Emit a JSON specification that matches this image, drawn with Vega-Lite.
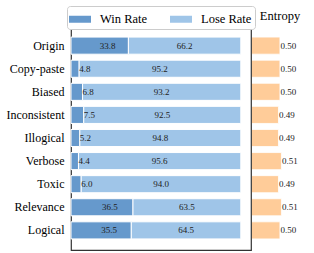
{
  "$schema": "https://vega.github.io/schema/vega-lite/v6.json",
  "data": {"values": [
    {"cat": "Origin", "win": 33.8, "lose": 66.2, "entropy": 0.50},
    {"cat": "Copy-paste", "win": 4.8, "lose": 95.2, "entropy": 0.50},
    {"cat": "Biased", "win": 6.8, "lose": 93.2, "entropy": 0.50},
    {"cat": "Inconsistent", "win": 7.5, "lose": 92.5, "entropy": 0.49},
    {"cat": "Illogical", "win": 5.2, "lose": 94.8, "entropy": 0.49},
    {"cat": "Verbose", "win": 4.4, "lose": 95.6, "entropy": 0.51},
    {"cat": "Toxic", "win": 6.0, "lose": 94.0, "entropy": 0.49},
    {"cat": "Relevance", "win": 36.5, "lose": 63.5, "entropy": 0.51},
    {"cat": "Logical", "win": 35.5, "lose": 64.5, "entropy": 0.50}
  ]},
  "spacing": 0,
  "resolve": {"scale": {"x": "independent"}},
  "config": {"font": "Liberation Serif"},
  "hconcat": [
    {
      "width": 180,
      "height": 224,
      "view": {"stroke": "#333", "strokeWidth": 1.2},
      "encoding": {
        "y": {"field": "cat", "type": "nominal", "sort": null,
          "scale": {"paddingInner": 0.26, "paddingOuter": 0.48},
          "axis": {"title": null, "ticks": false, "domain": false, "labelFont": "Liberation Serif", "labelFontSize": 12, "labelColor": "#000", "labelPadding": 7}}
      },
      "layer": [
        {
          "transform": [{"fold": ["win", "lose"], "as": ["key", "value"]}],
          "mark": {"type": "bar", "stroke": "white", "strokeWidth": 1},
          "encoding": {
            "x": {"field": "value", "type": "quantitative", "stack": "zero", "scale": {"domain": [0, 106], "nice": false, "zero": true}, "axis": null},
            "color": {"field": "key", "type": "nominal",
              "scale": {"domain": ["win", "lose"], "range": ["#6699cc", "#9fc5e8"]},
              "legend": {"orient": "none", "legendX": -4, "legendY": -20, "direction": "horizontal", "title": null,
                "labelExpr": "datum.label == 'win' ? 'Win Rate' : 'Lose Rate'",
                "labelFont": "Liberation Serif", "labelFontSize": 12.5, "labelColor": "#000",
                "symbolType": "M-1.1,-0.35H1.1V0.35H-1.1Z", "symbolSize": 400, "symbolStrokeWidth": 0,
                "labelOffset": 10, "columnPadding": 22,
                "strokeColor": "#ccc", "fillColor": "white", "cornerRadius": 3, "padding": 3}},
            "order": {"field": "key", "sort": "descending"}
          }
        },
        {
          "transform": [{"calculate": "datum.win > 20 ? datum.win / 2 : datum.win", "as": "wx"}],
          "mark": {"type": "text", "align": "left", "font": "Liberation Serif", "fontSize": 9, "color": "#222"},
          "encoding": {
            "x": {"field": "wx", "type": "quantitative"},
            "text": {"field": "win", "type": "quantitative", "format": ".1f"}
          }
        },
        {
          "transform": [{"calculate": "(datum.win + 100) / 2", "as": "lx"}],
          "mark": {"type": "text", "align": "center", "font": "Liberation Serif", "fontSize": 9, "color": "#222"},
          "encoding": {
            "x": {"field": "lx", "type": "quantitative"},
            "text": {"field": "lose", "type": "quantitative", "format": ".1f"}
          }
        }
      ]
    },
    {
      "width": 50,
      "height": 224,
      "view": {"stroke": null},
      "title": {"text": "Entropy", "font": "Liberation Serif", "fontSize": 12.5, "fontWeight": "normal", "color": "#000", "anchor": "middle", "dx": 3, "offset": 4},
      "encoding": {
        "y": {"field": "cat", "type": "nominal", "sort": null,
          "scale": {"paddingInner": 0.26, "paddingOuter": 0.48}, "axis": null}
      },
      "layer": [
        {
          "mark": {"type": "bar", "color": "#ffcc99", "stroke": "white", "strokeWidth": 0.8, "clip": true},
          "encoding": {
            "x": {"field": "entropy", "type": "quantitative", "scale": {"domain": [0.31, 0.65], "zero": false, "nice": false}, "axis": null}
          }
        },
        {
          "mark": {"type": "text", "align": "left", "dx": 0.5, "font": "Liberation Serif", "fontSize": 9, "color": "#222"},
          "encoding": {
            "x": {"field": "entropy", "type": "quantitative"},
            "text": {"field": "entropy", "type": "quantitative", "format": ".2f"}
          }
        }
      ]
    }
  ]
}
